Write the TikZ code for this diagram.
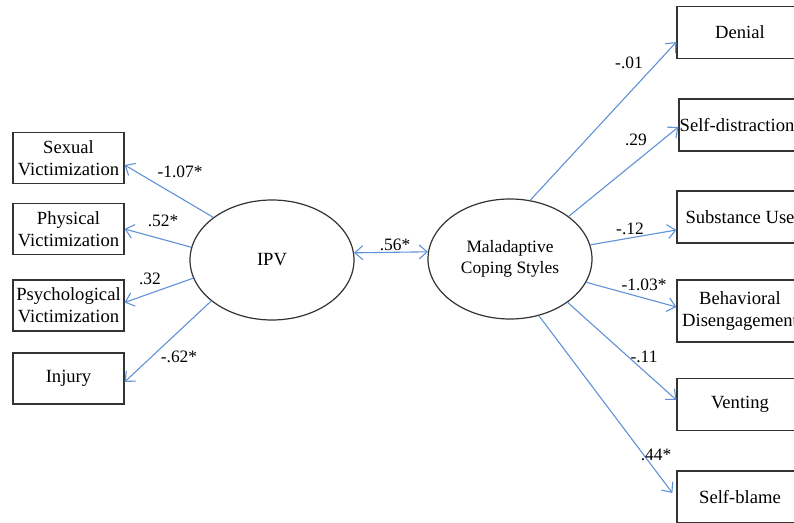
\documentclass[tikz,border=0pt]{standalone}
\usepackage{fontspec}
\setmainfont{Liberation Serif}
\usetikzlibrary{arrows.meta,shapes.geometric,positioning}
\definecolor{pathblue}{RGB}{95,146,214}

\begin{document}
\begin{tikzpicture}[
  x=0.5pt, y=-0.5pt,
  font=\fontsize{9.3}{11}\selectfont, >={Straight Barb[length=4pt,width=7pt]},
  indicator/.style={rectangle, minimum height=25.5pt, minimum width=55.5pt, draw=black!80, line width=0.6pt, align=center, inner sep=1pt},
  coping/.style={rectangle, minimum height=26pt, minimum width=63pt, draw=black!80, line width=0.6pt, align=center, inner sep=1pt},
  latent/.style={ellipse, minimum width=82pt, minimum height=60pt, draw=black!80, line width=0.6pt, align=center, inner sep=0pt},
  loading/.style={->, draw=pathblue, line width=0.55pt},
  weight/.style={font=\fontsize{8.7}{10}\selectfont, inner sep=0pt}
]
\useasboundingbox (0,0) rectangle (794,523);
\clip (0,0) rectangle (794,523);

% latent variables
\node[latent] (ipv) at (272,260) {IPV};
\node[latent, font=\fontsize{8.7}{10.5}\selectfont] (mcs) at (510,259) {Maladaptive\\Coping Styles};

% IPV indicators
\node[indicator] (sexual) at (68.5,158) {Sexual\\Victimization};
\node[indicator] (physical) at (68.5,229) {Physical\\Victimization};
\node[indicator] (psych) at (68.5,305.5) {Psychological\\Victimization};
\node[indicator] (injury) at (68.5,378.5) {Injury};

% coping indicators
\node[coping] (denial) at (740,32.5) {Denial};
\node[coping, minimum width=58pt, inner sep=0pt] (selfdist) at (737,125) {Self-distraction};
\node[coping] (subst) at (740,217) {Substance Use};
\node[coping, minimum height=31pt] (behav) at (740,311) {Behavioral\\Disengagement};
\node[coping] (venting) at (740,404.5) {Venting};
\node[coping] (selfblame) at (740,497) {Self-blame};

% loadings
\draw[loading] (ipv.144) -- ([yshift=-3.5pt]sexual.east);
\draw[loading] (ipv.171) -- (physical.east);
\draw[loading] (ipv.193) -- ([yshift=1.5pt]psych.east);
\draw[loading] (ipv.214) -- ([yshift=-1.75pt]injury.east);
\draw[loading] (mcs.71) -- ([yshift=-4.75pt]denial.west);
\draw[loading] (mcs.36) -- ([yshift=-1pt]selfdist.west);
\draw[loading] (mcs.10) -- ([yshift=-6.5pt]subst.west);
\draw[loading] (mcs.-17) -- ([yshift=2pt]behav.west);
\draw[loading] (mcs.-37) -- ([yshift=2.25pt]venting.west);
\draw[loading] (mcs.-63) -- ([xshift=-2pt,yshift=2pt]selfblame.west);

% correlation
\draw[loading, <->] (ipv.5) -- (mcs.175);

\node[weight] (w1) at (180,172) {-1.07*};
\node[weight] (w2) at (163,221) {.52*};
\node[weight] (w3) at (150,279) {.32};
\node[weight] (w4) at (179,357) {-.62*};
\node[weight] (r1) at (395,245) {.56*};
\node[weight] (w5) at (629,63) {-.01};
\node[weight] (w6) at (636,140) {.29};
\node[weight] (w7) at (630,229) {-.12};
\node[weight] (w8) at (644,285) {-1.03*};
\node[weight] (w9) at (644,357) {-.11};
\node[weight] (w10) at (656,455) {.44*};
\end{tikzpicture}
\end{document}
